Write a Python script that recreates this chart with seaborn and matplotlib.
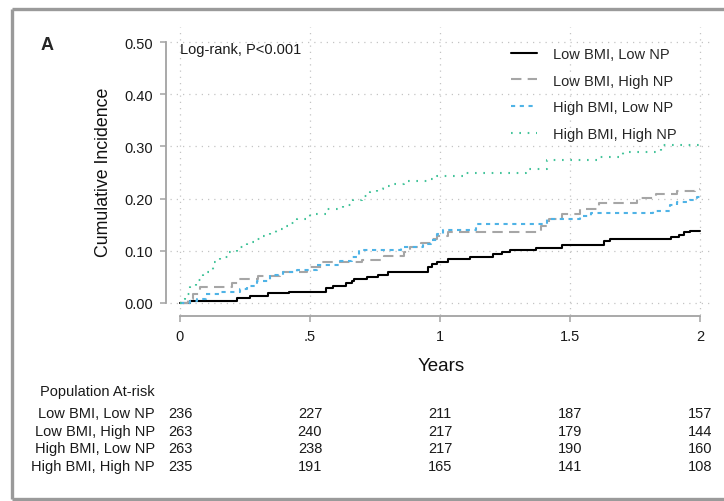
import matplotlib
matplotlib.use("Agg")
import matplotlib.pyplot as plt
import matplotlib.lines as mlines
import matplotlib.transforms as mtransforms
import seaborn as sns
import pandas as pd

# ---------------- data ----------------
groups = ["Low BMI, Low NP", "Low BMI, High NP", "High BMI, Low NP", "High BMI, High NP"]

t_lblb = [0, 0.04, 0.22, 0.27, 0.34, 0.42, 0.56, 0.59, 0.64, 0.66, 0.67, 0.72, 0.76, 0.80,
          0.955, 0.97, 0.99, 1.03, 1.115, 1.205, 1.24, 1.27, 1.37, 1.47, 1.63, 1.655,
          1.89, 1.92, 1.94, 1.96, 2.0]
v_lblb = [0, 0.004, 0.009, 0.014, 0.019, 0.022, 0.028, 0.033, 0.038, 0.043, 0.046, 0.049,
          0.054, 0.060, 0.068, 0.075, 0.078, 0.084, 0.088, 0.093, 0.097, 0.102, 0.106,
          0.111, 0.118, 0.123, 0.126, 0.130, 0.136, 0.1375, 0.1375]

t_lbhn = [0, 0.03, 0.05, 0.077, 0.20, 0.224, 0.30, 0.385, 0.49, 0.545, 0.70, 0.785, 0.86,
          0.885, 0.925, 0.965, 0.99, 1.03, 1.39, 1.42, 1.47, 1.54, 1.61, 1.756, 1.83,
          1.91, 1.98, 2.0]
v_lbhn = [0, 0.008, 0.018, 0.031, 0.038, 0.046, 0.052, 0.060, 0.068, 0.078, 0.082, 0.090,
          0.097, 0.107, 0.114, 0.122, 0.129, 0.136, 0.148, 0.161, 0.171, 0.180, 0.192,
          0.201, 0.209, 0.214, 0.219, 0.219]

t_hbln = [0, 0.04, 0.064, 0.10, 0.15, 0.23, 0.256, 0.295, 0.346, 0.397, 0.45, 0.526, 0.615,
          0.66, 0.69, 0.85, 0.935, 0.965, 0.99, 1.01, 1.14, 1.41, 1.54, 1.58, 1.82, 1.885,
          1.91, 1.96, 1.99, 2.0]
v_hbln = [0, 0.004, 0.008, 0.017, 0.021, 0.026, 0.033, 0.043, 0.053, 0.059, 0.063, 0.072,
          0.081, 0.088, 0.102, 0.107, 0.113, 0.120, 0.132, 0.139, 0.152, 0.161, 0.166,
          0.172, 0.177, 0.187, 0.193, 0.198, 0.203, 0.203]

t_hbhn = [0, 0.01, 0.02, 0.038, 0.06, 0.09, 0.128, 0.154, 0.19, 0.218, 0.256, 0.295, 0.32,
          0.346, 0.37, 0.397, 0.42, 0.449, 0.5, 0.564, 0.628, 0.667, 0.70, 0.73, 0.756,
          0.782, 0.82, 0.86, 0.95, 0.987, 1.10, 1.33, 1.41, 1.615, 1.705, 1.85, 2.0]
v_hbhn = [0, 0.008, 0.018, 0.033, 0.045, 0.059, 0.078, 0.088, 0.098, 0.107, 0.116, 0.122,
          0.128, 0.135, 0.141, 0.148, 0.154, 0.161, 0.171, 0.180, 0.188, 0.198, 0.205,
          0.212, 0.218, 0.224, 0.228, 0.234, 0.237, 0.244, 0.250, 0.256, 0.273, 0.279,
          0.289, 0.302, 0.302]

risk_times = [0, 0.5, 1, 1.5, 2]
risk_lblb = [236, 227, 211, 187, 157]
risk_lbhn = [263, 240, 217, 179, 144]
risk_hbln = [263, 238, 217, 190, 160]
risk_hbhn = [235, 191, 165, 141, 108]

y_ticks = [0.0, 0.1, 0.2, 0.3, 0.4, 0.5]
y_ticklabels = ["0.00", "0.10", "0.20", "0.30", "0.40", "0.50"]
x_ticks = [0, 0.5, 1, 1.5, 2]
x_ticklabels = ["0", ".5", "1", "1.5", "2"]

# ---------------- styling ----------------
sns.set_style("white")
plt.rcParams["font.family"] = ["Liberation Sans", "DejaVu Sans"]

W, H = 724, 502
fig = plt.figure(figsize=(W / 100, H / 100), dpi=100)
fig.patch.set_linewidth(0)

# axes region in pixels
ax_l, ax_r, ax_t, ax_b = 170, 712, 28, 316
ax = fig.add_axes([ax_l / W, 1 - ax_b / H, (ax_r - ax_l) / W, (ax_b - ax_t) / H])
px_per_x = 260.0
px_per_y = 521.4
ax.set_xlim(0 - (180 - ax_l) / px_per_x, 2 + (ax_r - 700) / px_per_x)
ax.set_ylim(0 - (ax_b - 304) / px_per_y, 0.5 + (43 - ax_t) / px_per_y)

frames = []
for g, t, v in zip(groups, [t_lblb, t_lbhn, t_hbln, t_hbhn], [v_lblb, v_lbhn, v_hbln, v_hbhn]):
    frames.append(pd.DataFrame({"t": t, "v": v, "group": g}))
df = pd.concat(frames, ignore_index=True)

palette = {groups[0]: "#000000", groups[1]: "#a6a6a6", groups[2]: "#4fb3e6", groups[3]: "#45c49b"}
dashes = {groups[0]: "", groups[1]: (5, 3), groups[2]: (2, 2.2), groups[3]: (0.8, 3.2)}

sns.lineplot(data=df, x="t", y="v", hue="group", style="group", hue_order=groups,
             style_order=groups, palette=palette, dashes=dashes, estimator=None,
             sort=False, drawstyle="steps-post", linewidth=1.5, ax=ax, legend=True)

handles, labels = ax.get_legend_handles_labels()
ax.get_legend().remove()
leg = fig.legend(handles, labels, loc="upper left",
                 bbox_to_anchor=(511 / W, 1 - 48 / H), frameon=False,
                 fontsize=10.5, handlelength=1.75, handletextpad=1.1,
                 labelspacing=0.86, borderpad=0, borderaxespad=0)

# grid
ax.set_xticks(x_ticks)
ax.set_xticklabels(x_ticklabels)
ax.set_yticks(y_ticks)
ax.set_yticklabels(y_ticklabels)
ax.grid(True, color="#c4c4c4", linestyle=(0, (1, 4)), linewidth=0.9)
ax.set_axisbelow(True)

# spines
for s in ["top", "right"]:
    ax.spines[s].set_visible(False)
for s in ["left", "bottom"]:
    ax.spines[s].set_color("#a3a3a3")
    ax.spines[s].set_linewidth(1.3)
ax.spines["left"].set_position(("outward", 3))
ax.spines["bottom"].set_position(("outward", 1))
ax.spines["left"].set_bounds(0, 0.5)
ax.spines["bottom"].set_bounds(0, 2)
ax.tick_params(axis="both", which="major", direction="out", length=4, width=1.1,
               color="#a3a3a3", labelsize=10.5, labelcolor="#1a1a1a", pad=5,
               left=True, bottom=True)

ax.set_xlabel("Years", fontsize=13.5, labelpad=10, color="#111111")
ax.set_ylabel("Cumulative Incidence", fontsize=12.8, labelpad=9, color="#111111")

ax.text(0, (304 - 50) / px_per_y, "Log-rank, P<0.001", transform=ax.transData,
        fontsize=10.5, ha="left", va="center", color="#1a1a1a")

# panel letter
fig.text(47 / W, 1 - 45 / H, "A", fontsize=13, fontweight="bold", ha="center", va="center")

# at-risk table
fig.text(40 / W, 1 - 392 / H, "Population At-risk", fontsize=10.5, ha="left", va="center",
         color="#1a1a1a")
row_y = [414, 432, 449, 467]
blend = mtransforms.blended_transform_factory(ax.transData, fig.transFigure)
for g, ry, counts in zip(groups, row_y, [risk_lblb, risk_lbhn, risk_hbln, risk_hbhn]):
    fig.text(155 / W, 1 - ry / H, g, fontsize=10.5, ha="right", va="center", color="#1a1a1a")
    for tt, c in zip(risk_times, counts):
        ax.text(tt, 1 - ry / H, str(c), transform=blend, fontsize=10.5, ha="center",
                va="center", color="#1a1a1a", clip_on=False)

# outer gray frame: left, top and bottom edges (right edge lies outside the image)
fx0, fy0, fy1 = 11.5 / W, 1 - 9.5 / H, 1 - 499.5 / H
frame_kw = dict(transform=fig.transFigure, color="#9a9a9a", linewidth=2.4,
                solid_capstyle="butt")
fig.add_artist(mlines.Line2D([fx0, fx0], [fy1, fy0], **frame_kw))
fig.add_artist(mlines.Line2D([fx0, 1.0], [fy0, fy0], **frame_kw))
fig.add_artist(mlines.Line2D([fx0, 1.0], [fy1, fy1], **frame_kw))

fig.savefig("out.png", dpi=100, facecolor="white", edgecolor="none")
